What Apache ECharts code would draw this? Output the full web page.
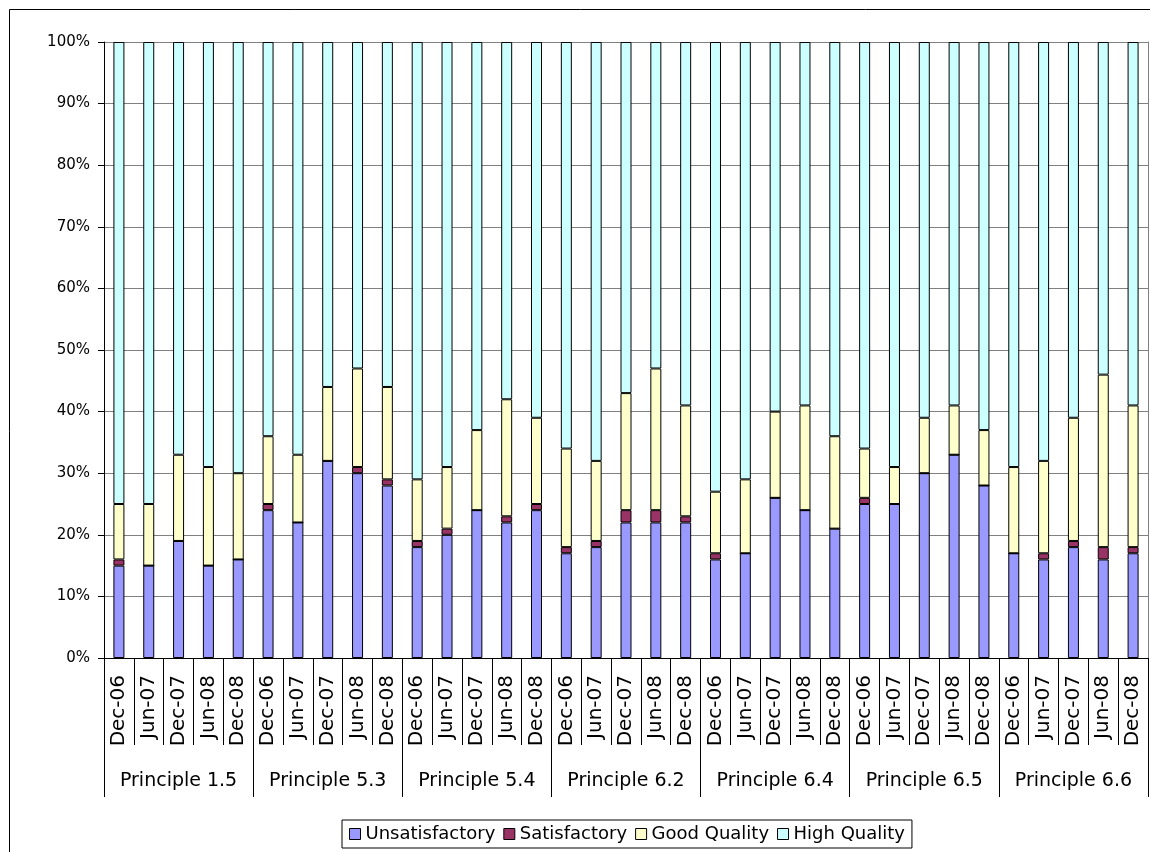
<!DOCTYPE html>
<html>
<head>
<meta charset="utf-8">
<script src="https://cdn.jsdelivr.net/npm/echarts@6/dist/echarts.min.js"></script>
<style>
html,body{margin:0;padding:0;background:#fff;}
#chart{width:1150px;height:852px;}
</style>
</head>
<body>
<div id="chart"></div>
<script>
const periods = ['Dec-06','Jun-07','Dec-07','Jun-08','Dec-08'];
const principles = ['Principle 1.5','Principle 5.3','Principle 5.4','Principle 6.2','Principle 6.4','Principle 6.5','Principle 6.6'];
const seriesNames = ['Unsatisfactory','Satisfactory','Good Quality','High Quality'];
const yTicks = [0,10,20,30,40,50,60,70,80,90,100];

const unsatisfactory = [15,15,19,15,16, 24,22,32,30,28, 18,20,24,22,24, 17,18,22,22,22, 16,17,26,24,21, 25,25,30,33,28, 17,16,18,16,17];
const satisfactory   = [1,0,0,0,0,     1,0,0,1,1,      1,1,0,1,1,      1,1,2,2,1,      1,0,0,0,0,      1,0,0,0,0,      0,1,1,2,1];
const goodQuality    = [9,10,14,16,14, 11,11,12,16,15, 10,10,13,19,14, 16,13,19,23,18, 10,12,14,17,15, 8,6,9,8,9,      14,15,20,28,23];
const highQuality    = [75,75,67,69,70, 64,67,56,53,56, 71,69,63,58,61, 66,68,57,53,59, 73,71,60,59,64, 66,69,61,59,63, 69,68,61,54,59];

const colors = ['#9999FF','#993366','#FFFFCC','#CCFFFF'];
const valuesBySeries = [unsatisfactory, satisfactory, goodQuality, highQuality];

const categories = [];
principles.forEach(() => periods.forEach(p => categories.push(p)));

const FONT = 'DejaVu Sans';
const chart = echarts.init(document.getElementById('chart'), null, {renderer:'canvas'});

const option = {
  animation: false,
  backgroundColor: '#fff',
  textStyle: {fontFamily: FONT, color: '#000'},
  graphic: [{
    type: 'rect',
    shape: {x: 9.5, y: 9.5, width: 1200, height: 900},
    style: {fill: 'none', stroke: '#000', lineWidth: 1},
    silent: true, z: -1
  }],
  legend: {
    data: seriesNames,
    left: 342, top: 820,
    orient: 'horizontal',
    icon: 'rect',
    itemWidth: 11, itemHeight: 11,
    itemGap: 8,
    padding: [5, 7],
    borderColor: '#000', borderWidth: 1,
    textStyle: {fontFamily: FONT, fontSize: 18, color: '#000'},
    itemStyle: {borderColor: '#000', borderWidth: 1}
  },
  grid: {left: 104, right: 2, top: 42, height: 616, containLabel: false},
  xAxis: [{
    type: 'category',
    data: categories,
    position: 'bottom',
    axisLine: {show: true, lineStyle: {color: '#000', width: 1}},
    axisTick: {show: true, interval: 0, length: 87, lineStyle: {color: '#000', width: 1}},
    axisLabel: {interval: 0, rotate: 90, margin: 17, fontFamily: FONT, fontSize: 20, color: '#000'},
    splitLine: {show: false}
  }, {
    type: 'category',
    data: principles,
    position: 'bottom',
    axisLine: {show: false},
    axisTick: {show: true, interval: 0, length: 139, lineStyle: {color: '#000', width: 1}},
    axisLabel: {interval: 0, margin: 114, fontFamily: FONT, fontSize: 19, color: '#000'},
    splitLine: {show: false}
  }],
  yAxis: [{
    type: 'value',
    min: yTicks[0], max: yTicks[yTicks.length-1], interval: 10,
    axisLine: {show: true, lineStyle: {color: '#000', width: 1}},
    axisTick: {show: true, length: 6, lineStyle: {color: '#000'}},
    axisLabel: {formatter: '{value}%', margin: 14, fontFamily: FONT, fontSize: 15, color: '#000'},
    splitLine: {show: true, lineStyle: {color: '#808080', width: 1}}
  }, {
    type: 'value',
    position: 'right',
    min: 0, max: 100, interval: 10,
    axisLine: {show: true, lineStyle: {color: '#808080', width: 1}},
    axisTick: {show: false},
    axisLabel: {show: false},
    splitLine: {show: false}
  }],
  series: seriesNames.map((name, i) => ({
    name: name,
    type: 'bar',
    stack: 'total',
    xAxisIndex: 0,
    yAxisIndex: 0,
    barWidth: 11,
    data: valuesBySeries[i],
    itemStyle: {color: colors[i], borderColor: '#000', borderWidth: 1}
  }))
};
chart.setOption(option);
</script>
</body>
</html>
